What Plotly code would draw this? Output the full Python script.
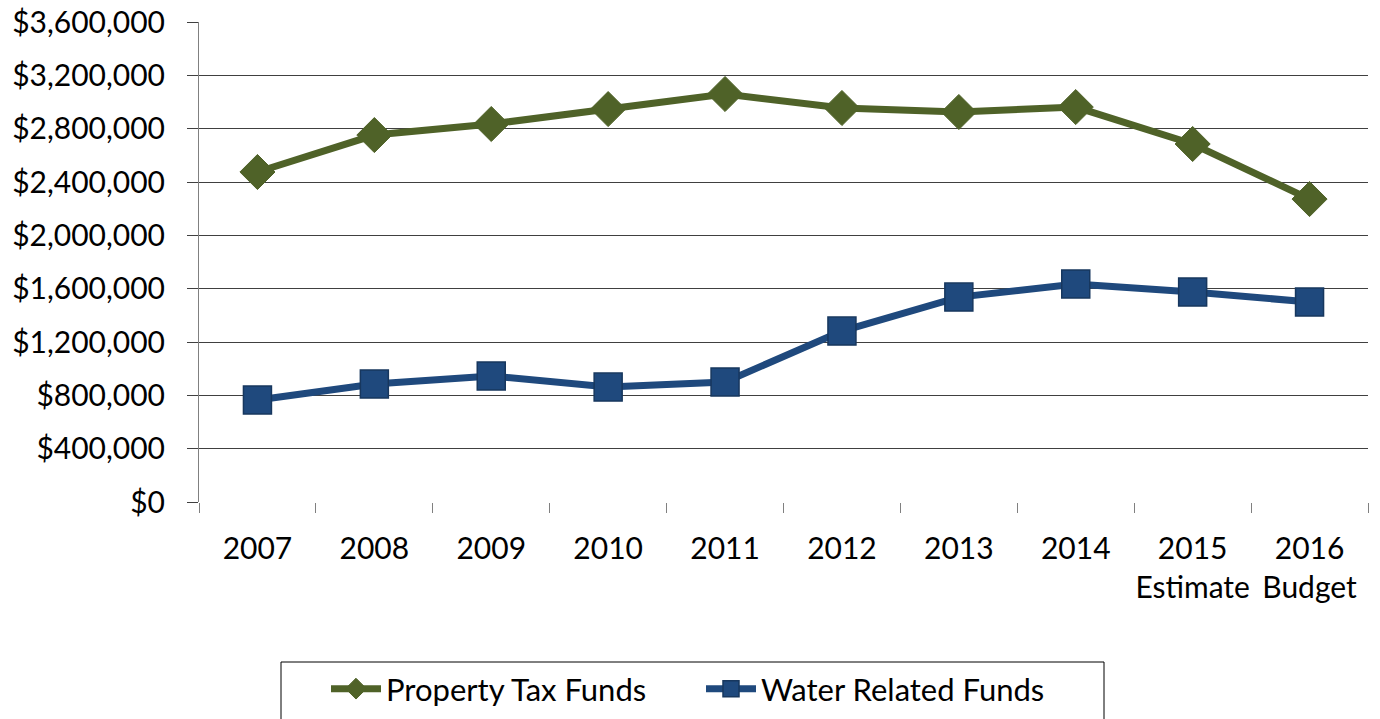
import plotly.graph_objects as go

years = ["2007", "2008", "2009", "2010", "2011", "2012", "2013", "2014",
         "2015<br>Estimate", "2016<br>Budget"]
property_tax = [2475000, 2752000, 2835000, 2947000, 3060000, 2955000,
                2925000, 2962000, 2685000, 2272000]
water_related = [765000, 885000, 945000, 862000, 900000, 1282000,
                 1537000, 1635000, 1575000, 1500000]
y_ticks = list(range(0, 3600001, 400000))
y_labels = ["${:,}".format(v) for v in y_ticks]

FONT = "Lato, 'Open Sans', sans-serif"
GREEN = "#4F6228"
BLUE = "#1F497D"

# plot area in pixels (used to place the legend frame in paper units)
L, R, T, B = 199, 1368, 22, 502
W, H = 1380, 719


def px_x(p):
    return (p - L) / (R - L)


def px_y(p):
    return (B - p) / (B - T)


fig = go.Figure()
fig.add_trace(go.Scatter(
    x=years, y=property_tax, name="Property Tax Funds", mode="lines+markers",
    line=dict(color=GREEN, width=7),
    marker=dict(symbol="diamond", size=27, color=GREEN,
                line=dict(color=GREEN, width=1)),
))
fig.add_trace(go.Scatter(
    x=years, y=water_related, name="Water Related Funds", mode="lines+markers",
    line=dict(color=BLUE, width=7),
    marker=dict(symbol="square", size=28, color=BLUE,
                line=dict(color="#17375E", width=1.5)),
))

# legend frame
fig.add_shape(type="rect", xref="paper", yref="paper",
              x0=px_x(281), x1=px_x(1104), y0=px_y(724), y1=px_y(662),
              line=dict(color="#000000", width=1), fillcolor="rgba(0,0,0,0)")

fig.update_layout(
    width=W, height=H,
    margin=dict(l=L, r=W - R, t=T, b=H - B, autoexpand=False),
    paper_bgcolor="white", plot_bgcolor="white",
    font=dict(family=FONT, size=30, color="#000000"),
    showlegend=True,
    legend=dict(
        orientation="h", x=px_x(326), xanchor="left",
        y=px_y(662), yanchor="top",
        borderwidth=0, bgcolor="rgba(0,0,0,0)",
        font=dict(family=FONT, size=31, color="#000000"),
        entrywidth=310, entrywidthmode="pixels", itemwidth=50,
    ),
    xaxis=dict(
        type="category", range=[-0.5, 9.5], automargin=False,
        showgrid=False, showline=False, zeroline=False,
        ticks="outside", tickson="boundaries", ticklen=10,
        tickcolor="#808080", tickwidth=1, ticklabelstandoff=26,
        tickangle=0,
        tickfont=dict(family=FONT, size=30),
    ),
    yaxis=dict(
        range=[0, 3600000], tickvals=y_ticks, ticktext=y_labels,
        automargin=False,
        showgrid=True, gridcolor="#404040", gridwidth=1,
        showline=True, linecolor="#808080", linewidth=1,
        zeroline=False, ticks="outside", ticklen=11,
        tickcolor="#404040", tickwidth=1, ticklabelstandoff=16,
        tickfont=dict(family=FONT, size=30),
    ),
)

fig.write_html("out.html")
